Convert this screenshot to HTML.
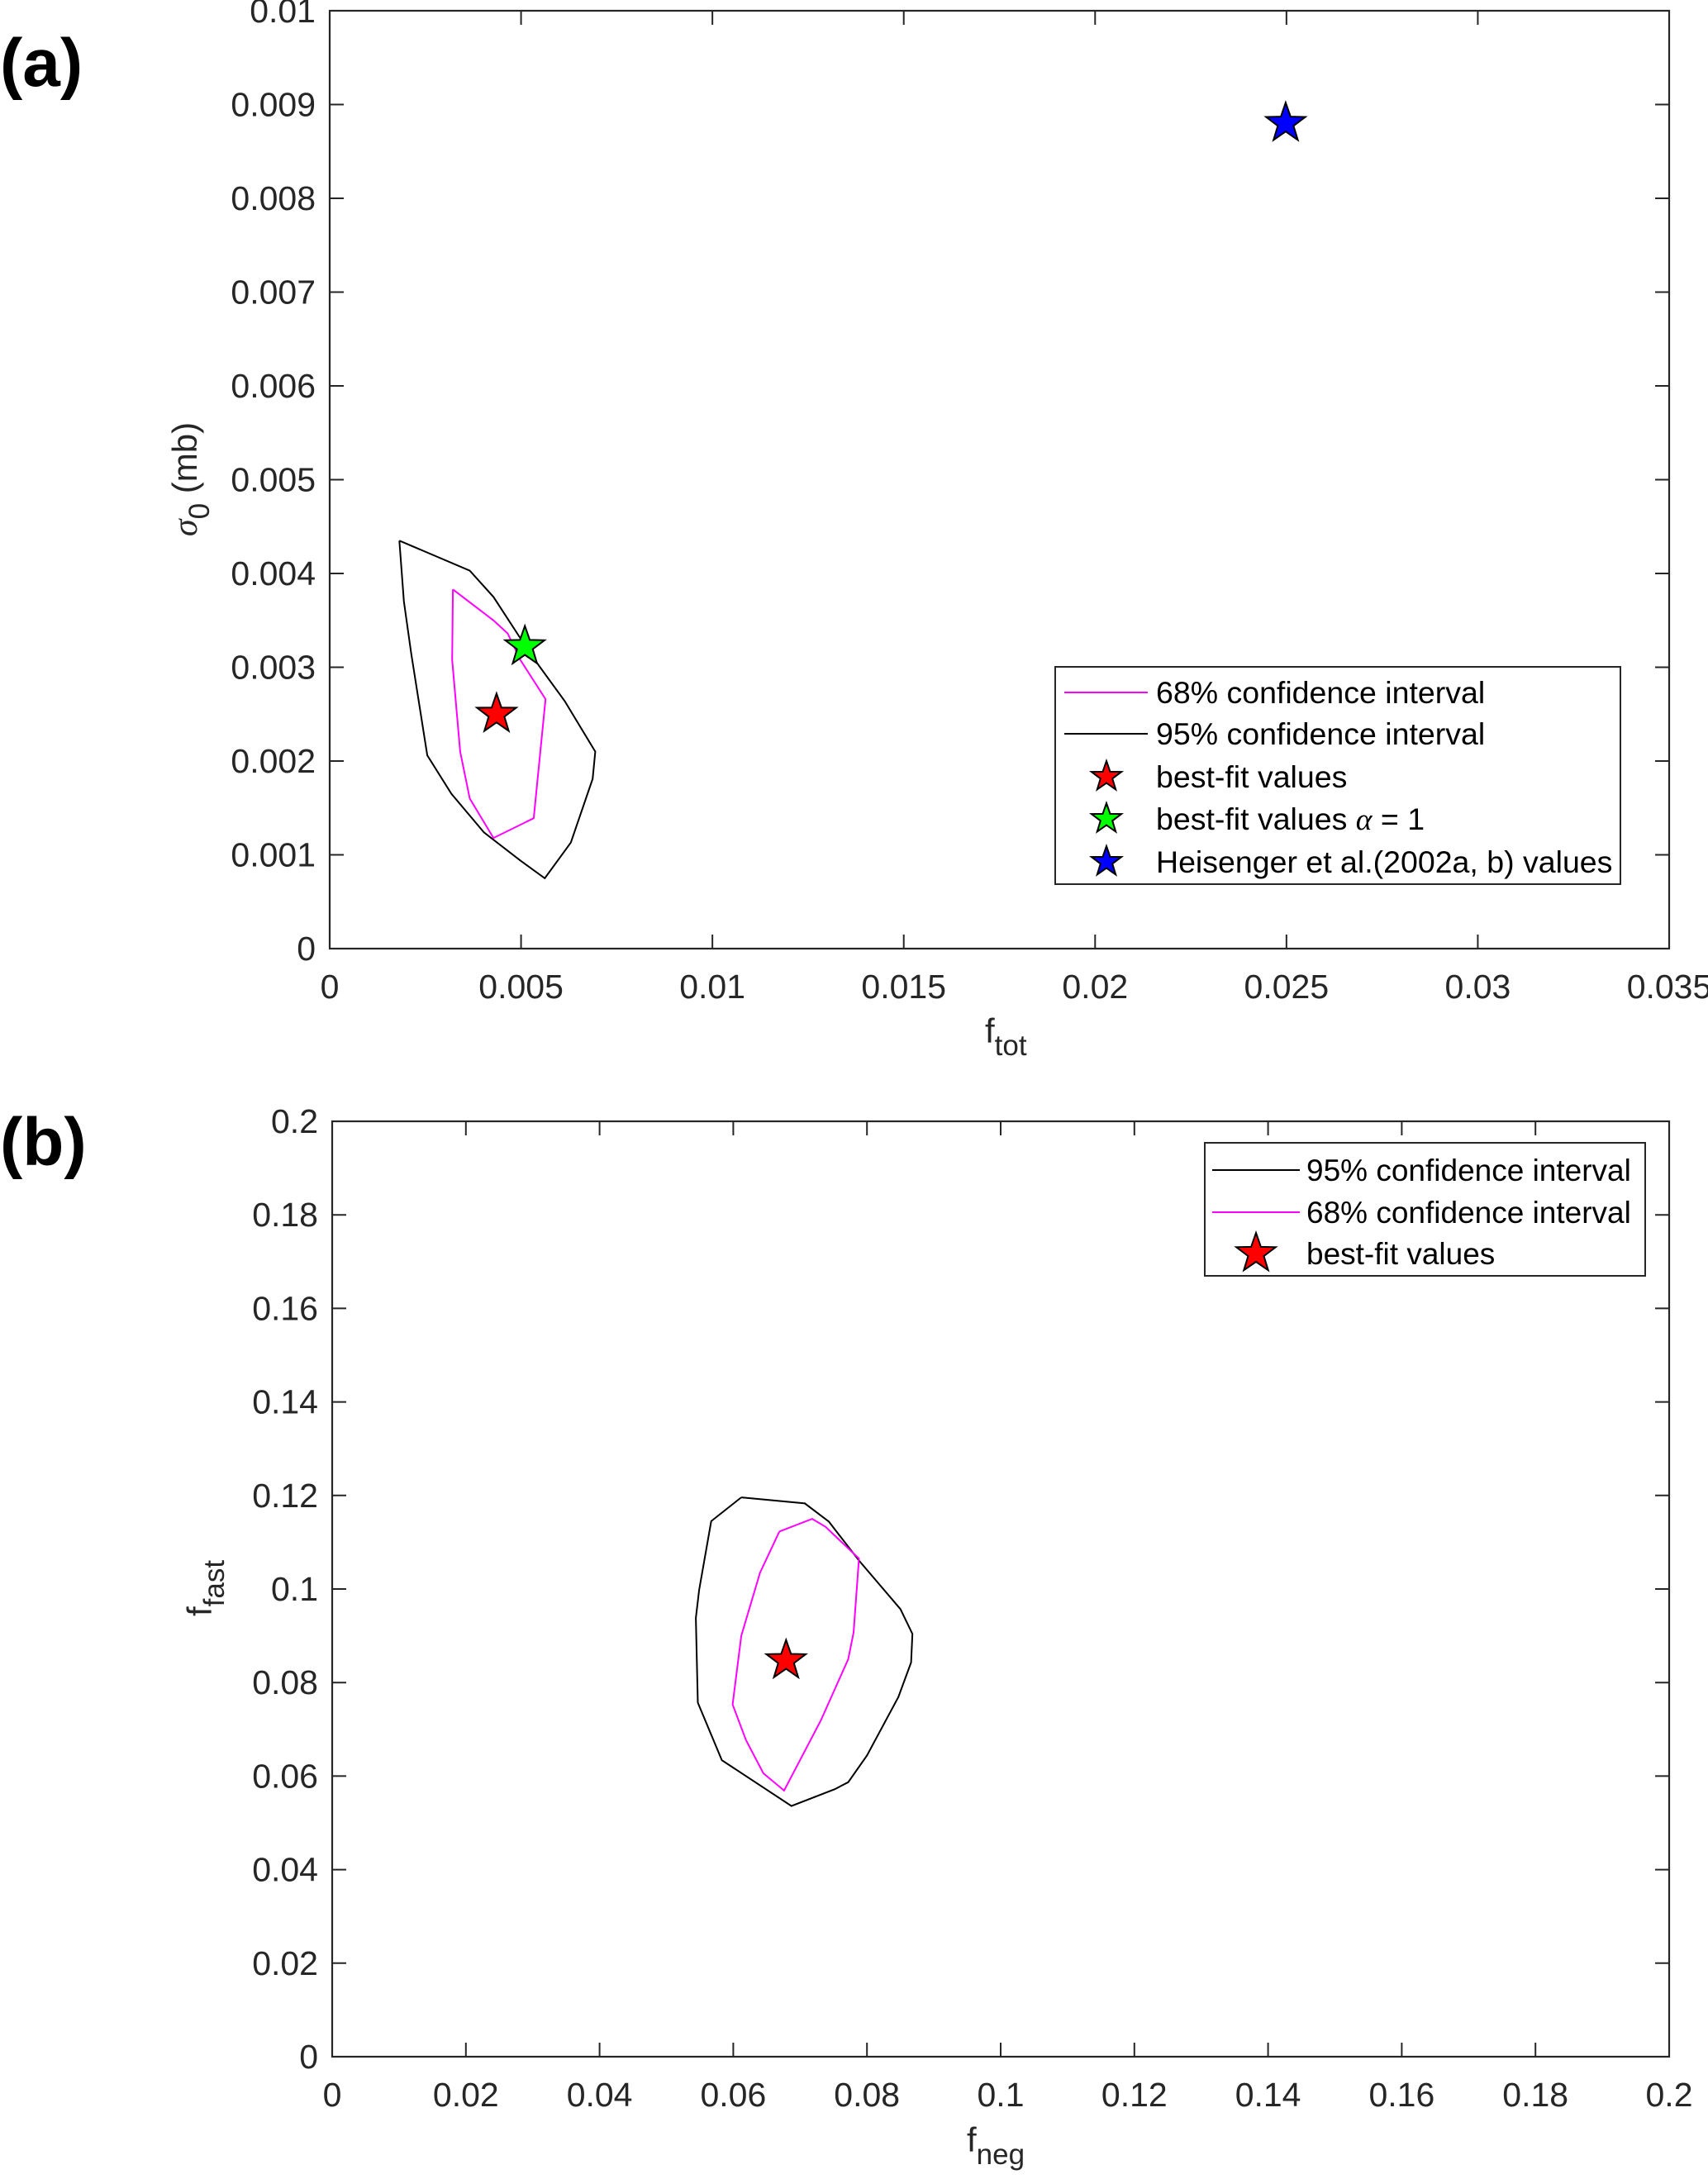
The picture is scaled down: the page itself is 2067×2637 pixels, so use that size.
<!DOCTYPE html>
<html><head><meta charset="utf-8"><style>
html,body{margin:0;padding:0;background:#fff}
svg{display:block;font-family:"Liberation Sans",Arial,sans-serif}
</style></head><body>
<svg id="fig" width="2067" height="2637" viewBox="0 0 2067 2637" xmlns="http://www.w3.org/2000/svg">
<text x="0" y="104" font-size="82" font-weight="bold">(a)</text>
<text x="0" y="1410" font-size="82" font-weight="bold">(b)</text>
<g id="pa"></g>
<g id="pb"></g>
</svg>
<script>
// Panel (a) data
const aXTicks = [0,0.005,0.01,0.015,0.02,0.025,0.03,0.035];
const aXTickLabels = ["0","0.005","0.01","0.015","0.02","0.025","0.03","0.035"];
const aYTicks = [0,0.001,0.002,0.003,0.004,0.005,0.006,0.007,0.008,0.009,0.01];
const aYTickLabels = ["0","0.001","0.002","0.003","0.004","0.005","0.006","0.007","0.008","0.009","0.01"];
const a95x = [0.00182,0.00194,0.00213,0.00255,0.00318,0.00403,0.00498,0.00562,0.00630,0.00687,0.00694,0.00614,0.00548,0.00506,0.00428,0.00366,0.00182];
const a95y = [0.00435,0.00370,0.00315,0.00206,0.00165,0.00124,0.00094,0.00075,0.00113,0.00181,0.00210,0.00264,0.00301,0.00326,0.00375,0.00403,0.00435];
const a68x = [0.00322,0.00320,0.00341,0.00366,0.00428,0.00533,0.00564,0.00498,0.00465,0.00428,0.00322];
const a68y = [0.00383,0.00308,0.00210,0.00160,0.00118,0.00139,0.00266,0.00308,0.00336,0.00350,0.00383];
const aStarX = [0.00436,0.00510,0.02498];
const aStarY = [0.00250,0.00322,0.00880];
const aStarColors = ["#ff0000","#00ff00","#0000ff"];
// Panel (b) data
const bXTicks = [0,0.02,0.04,0.06,0.08,0.1,0.12,0.14,0.16,0.18,0.2];
const bXTickLabels = ["0","0.02","0.04","0.06","0.08","0.1","0.12","0.14","0.16","0.18","0.2"];
const bYTicks = bXTicks;
const bYTickLabels = bXTickLabels;
const b95x = [0.0612,0.0707,0.0743,0.0788,0.0850,0.0868,0.0866,0.0847,0.0800,0.0772,0.0752,0.0687,0.0583,0.0547,0.0544,0.0549,0.0567,0.0612];
const b95y = [0.1196,0.1183,0.1144,0.1061,0.0957,0.0904,0.0843,0.0769,0.0644,0.0587,0.0572,0.0536,0.0634,0.0757,0.0938,0.0998,0.1145,0.1196];
const b68x = [0.0669,0.0718,0.0738,0.0788,0.0780,0.0772,0.0731,0.0676,0.0645,0.0619,0.0599,0.0612,0.0640,0.0669];
const b68y = [0.1123,0.1150,0.1133,0.1065,0.0907,0.0850,0.0719,0.0569,0.0606,0.0677,0.0753,0.0900,0.1035,0.1123];
const bStarX = [0.0679];
const bStarY = [0.0847];

const NS="http://www.w3.org/2000/svg";
function mk(parent,tag,attrs,text){const e=document.createElementNS(NS,tag);for(const k in attrs)e.setAttribute(k,attrs[k]);if(text!==undefined)e.textContent=text;parent.appendChild(e);return e;}
function starPts(cx,cy,R){const r=R*0.4;let p=[];for(let i=0;i<10;i++){const a=-Math.PI/2+i*Math.PI/5;const rr=i%2?r:R;p.push((cx+rr*Math.cos(a)).toFixed(1)+","+(cy+rr*Math.sin(a)).toFixed(1));}return p.join(" ");}

function panel(g,L,R,T,B,xmax,ymax,xt,xtl,yt,ytl,ylabX){
  const sx=v=>L+v/xmax*(R-L), sy=v=>B-v/ymax*(B-T);
  const fr=mk(g,'rect',{x:L,y:T,width:R-L,height:B-T,fill:'none',stroke:'#262626','stroke-width':2.2});
  
  
  xt.forEach((v,i)=>{const x=sx(v);
    mk(g,'line',{x1:x,y1:B,x2:x,y2:B-17,stroke:'#262626','stroke-width':2});
    mk(g,'line',{x1:x,y1:T,x2:x,y2:T+17,stroke:'#262626','stroke-width':2});
    const t=mk(g,'text',{x:x,y:B+60,'font-size':41,'text-anchor':'middle',fill:'#262626'},xtl[i]);
    
    });
  yt.forEach((v,i)=>{const y=sy(v);
    mk(g,'line',{x1:L,y1:y,x2:L+17,y2:y,stroke:'#262626','stroke-width':2});
    mk(g,'line',{x1:R,y1:y,x2:R-17,y2:y,stroke:'#262626','stroke-width':2});
    const t=mk(g,'text',{x:ylabX,y:y+14,'font-size':41,'text-anchor':'end',fill:'#262626'},ytl[i]);
    
    });
  return {sx,sy};
}
function poly(g,s,xs,ys,col,name){const p=xs.map((x,i)=>s.sx(x).toFixed(1)+","+s.sy(ys[i]).toFixed(1)).join(" ");
  const e=mk(g,'polyline',{points:p,fill:'none',stroke:col,'stroke-width':2});
  
  }
function star(g,cx,cy,R,col,name){const e=mk(g,'polygon',{points:starPts(cx,cy,R),fill:col,stroke:'#000','stroke-width':2});
  
  }

// Panel a
const ga=document.getElementById('pa');
const sa=panel(ga,399,2020,13,1148,0.035,0.01,aXTicks,aXTickLabels,aYTicks,aYTickLabels,382);
poly(ga,sa,a95x,a95y,'#000','ci95-contour');
poly(ga,sa,a68x,a68y,'#ff00ff','ci68-contour');
const aNames=['best-fit-star','best-fit-alpha1-star','heisenger-star'];
aStarX.forEach((x,i)=>star(ga,sa.sx(x),sa.sy(aStarY[i]),25,aStarColors[i],aNames[i]));
{const t=mk(ga,'text',{x:1192,y:1262,'font-size':42,fill:'#262626'});t.innerHTML='f<tspan font-size="35" dy="15">tot</tspan>';

}
{const t=mk(ga,'text',{transform:'translate(238,580) rotate(-90)','font-size':42,'text-anchor':'middle',fill:'#262626'});t.innerHTML='<tspan font-family="Liberation Serif" font-style="italic">σ</tspan><tspan font-size="35" dy="15">0</tspan><tspan dy="-15"> (mb)</tspan>';

}
// legend a
{const lg=mk(ga,'g',{});


mk(lg,'rect',{x:1277,y:807,width:684,height:263,fill:'#fff',stroke:'#262626','stroke-width':2});
const rows=[838,888,940,991,1043];
mk(lg,'line',{x1:1288,y1:rows[0],x2:1389,y2:rows[0],stroke:'#ff00ff','stroke-width':2});
mk(lg,'line',{x1:1288,y1:rows[1],x2:1389,y2:rows[1],stroke:'#000','stroke-width':2});
star(lg,1339,rows[2],19,'#ff0000','legend-star-red');
star(lg,1339,rows[3],19,'#00ff00','legend-star-green');
star(lg,1339,rows[4],19,'#0000ff','legend-star-blue');
const labs=['68% confidence interval','95% confidence interval','best-fit values','best-fit values <tspan font-family="Liberation Serif" font-style="italic">α</tspan> = 1','Heisenger et al.(2002a, b) values'];
labs.forEach((s,i)=>{const t=mk(lg,'text',{x:1399,y:rows[i]+13,'font-size':37.5,fill:'#000'});t.innerHTML=s;

});}

// Panel b
const gb=document.getElementById('pb');
const sb=panel(gb,402,2020,1357,2489,0.2,0.2,bXTicks,bXTickLabels,bYTicks,bYTickLabels,385);
poly(gb,sb,b95x,b95y,'#000','ci95-contour');
poly(gb,sb,b68x,b68y,'#ff00ff','ci68-contour');
bStarX.forEach((x,i)=>star(gb,sb.sx(x),sb.sy(bStarY[i]),25,'#ff0000','best-fit-star'));
{const t=mk(gb,'text',{x:1170,y:2604,'font-size':42,fill:'#262626'});t.innerHTML='f<tspan font-size="35" dy="15">neg</tspan>';

}
{const t=mk(gb,'text',{transform:'translate(256,1922) rotate(-90)','font-size':42,'text-anchor':'middle',fill:'#262626'});t.innerHTML='f<tspan font-size="35" dy="15">fast</tspan>';

}
{const lg=mk(gb,'g',{});


mk(lg,'rect',{x:1458,y:1383,width:533,height:161,fill:'#fff',stroke:'#262626','stroke-width':2});
const rows=[1416,1467,1517];
mk(lg,'line',{x1:1467,y1:rows[0],x2:1573,y2:rows[0],stroke:'#000','stroke-width':2});
mk(lg,'line',{x1:1467,y1:rows[1],x2:1573,y2:rows[1],stroke:'#ff00ff','stroke-width':2});
star(lg,1520,rows[2],25,'#ff0000','legend-star-red');
['95% confidence interval','68% confidence interval','best-fit values'].forEach((s,i)=>{const t=mk(lg,'text',{x:1581,y:rows[i]+13,'font-size':37,fill:'#000'},s);

});}
</script>
</body></html>
